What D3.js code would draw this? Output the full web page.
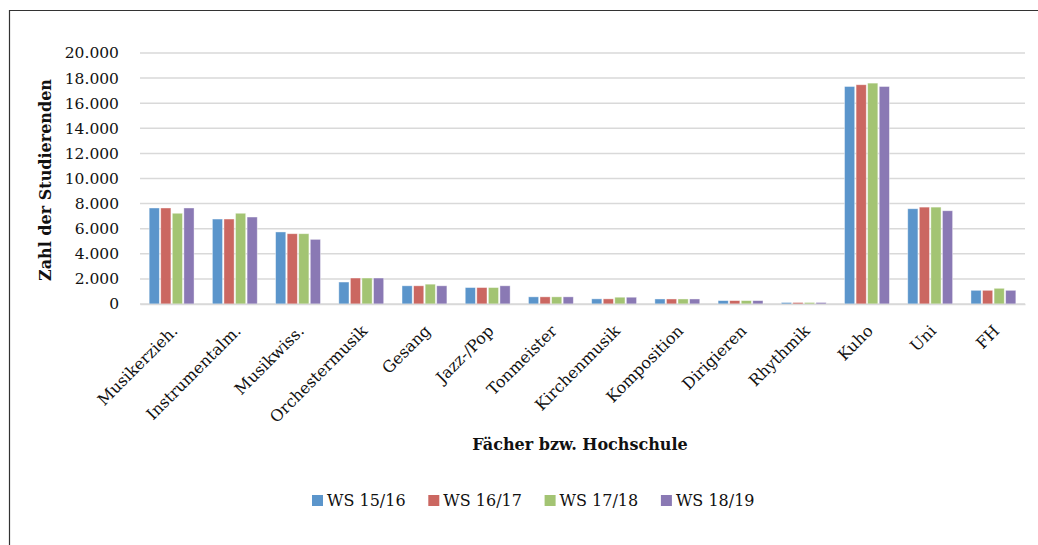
<!DOCTYPE html>
<html>
<head>
<meta charset="utf-8">
<script src="https://cdn.jsdelivr.net/npm/d3@7"></script>
<style>
  body { margin: 0; background: #fff; }
  svg text { font-family: "DejaVu Serif", serif; fill: #111; }
</style>
</head>
<body>
<div id="chart"></div>
<script>
// data
var categories = ["Musikerzieh.", "Instrumentalm.", "Musikwiss.", "Orchestermusik", "Gesang", "Jazz-/Pop",
  "Tonmeister", "Kirchenmusik", "Komposition", "Dirigieren", "Rhythmik", "Kuho", "Uni", "FH"];
var semesters = ["WS 15/16", "WS 16/17", "WS 17/18", "WS 18/19"];
var ws1516 = [7650, 6770, 5740, 1750, 1450, 1310, 570, 410, 400, 270, 120, 17330, 7590, 1090];
var ws1617 = [7650, 6770, 5600, 2070, 1450, 1310, 570, 410, 400, 270, 120, 17470, 7720, 1090];
var ws1718 = [7230, 7230, 5600, 2070, 1580, 1310, 570, 540, 400, 270, 120, 17600, 7720, 1250];
var ws1819 = [7650, 6930, 5150, 2070, 1450, 1450, 570, 540, 400, 270, 120, 17330, 7430, 1090];
var yTicks = [0, 2000, 4000, 6000, 8000, 10000, 12000, 14000, 16000, 18000, 20000];
var colors = ["#5b95cb", "#cb6761", "#a3c473", "#8a79b4"];

var series = [ws1516, ws1617, ws1718, ws1819];

var width = 1038, height = 545;
var plot = {left: 140, right: 1025, top: 53, bottom: 304};

var svg = d3.select("#chart").append("svg")
  .attr("width", width)
  .attr("height", height);

// outer frame (only top + left visible)
svg.append("line").attr("x1", 10).attr("x2", width).attr("y1", 10.5).attr("y2", 10.5)
  .attr("stroke", "#333").attr("stroke-width", 1.2);
svg.append("line").attr("x1", 9.5).attr("x2", 9.5).attr("y1", 10).attr("y2", height)
  .attr("stroke", "#333").attr("stroke-width", 1.2);

var x0 = d3.scaleBand().domain(categories).range([plot.left, plot.right]).paddingInner(0.29).paddingOuter(0.145);
var x1 = d3.scaleBand().domain(d3.range(4)).range([0, x0.bandwidth()]).paddingInner(0.12);
var y = d3.scaleLinear().domain([0, 20000]).range([plot.bottom, plot.top]);

var fmt = function(v) { return d3.format(",")(v).replace(/,/g, "."); };

// gridlines
svg.append("g")
  .selectAll("line")
  .data(yTicks)
  .enter()
  .append("line")
  .attr("x1", plot.left).attr("x2", plot.right)
  .attr("y1", d => y(d)).attr("y2", d => y(d))
  .attr("stroke", "#d9d9d9").attr("stroke-width", 1.5);

// y axis labels
var yAxis = d3.axisLeft(y).tickValues(yTicks).tickFormat(fmt).tickSize(0).tickPadding(0);
svg.append("g")
  .attr("transform", `translate(119, 0)`)
  .call(yAxis)
  .call(g => g.select(".domain").remove())
  .selectAll("text")
  .style("font-size", "15.5px")
  .attr("fill", "#111");

// bars
var groups = svg.append("g")
  .selectAll("g")
  .data(categories)
  .enter()
  .append("g")
  .attr("transform", d => `translate(${x0(d)},0)`);

groups.selectAll("rect")
  .data((c, i) => series.map((s, k) => ({k: k, v: s[i]})))
  .enter()
  .append("rect")
  .attr("x", d => x1(d.k))
  .attr("width", x1.bandwidth())
  .attr("y", d => y(d.v))
  .attr("height", d => y(0) - y(d.v))
  .attr("fill", d => colors[d.k])
  .attr("stroke", "rgba(255,255,255,0.5)")
  .attr("stroke-width", 0.8);

// x axis
var xAxis = d3.axisBottom(x0).tickSize(0).tickPadding(0);
var xg = svg.append("g")
  .attr("transform", `translate(0, ${plot.bottom})`)
  .call(xAxis);
xg.select(".domain").attr("stroke", "#d9d9d9").attr("stroke-width", 1.5);
xg.selectAll("text")
  .style("font-size", "16px")
  .attr("fill", "#111")
  .attr("y", 0).attr("dy", 0)
  .attr("text-anchor", "end")
  .attr("transform", "translate(7, 28) rotate(-45)");

// axis titles
svg.append("text")
  .attr("transform", "translate(51, 180) rotate(-90)")
  .attr("text-anchor", "middle")
  .style("font-size", "16px")
  .style("font-weight", "bold")
  .text("Zahl der Studierenden");

svg.append("text")
  .attr("x", 580).attr("y", 450)
  .attr("text-anchor", "middle")
  .style("font-size", "16px")
  .style("font-weight", "bold")
  .text("Fächer bzw. Hochschule");

// legend
var legend = svg.append("g")
  .selectAll("g")
  .data(semesters)
  .enter()
  .append("g")
  .attr("transform", (d, i) => `translate(${312 + i * 116.3}, 495)`);
legend.append("rect")
  .attr("width", 11).attr("height", 11)
  .attr("fill", (d, i) => colors[i]);
legend.append("text")
  .attr("x", 15).attr("y", 11)
  .style("font-size", "16px")
  .text(d => d);
</script>
</body>
</html>
